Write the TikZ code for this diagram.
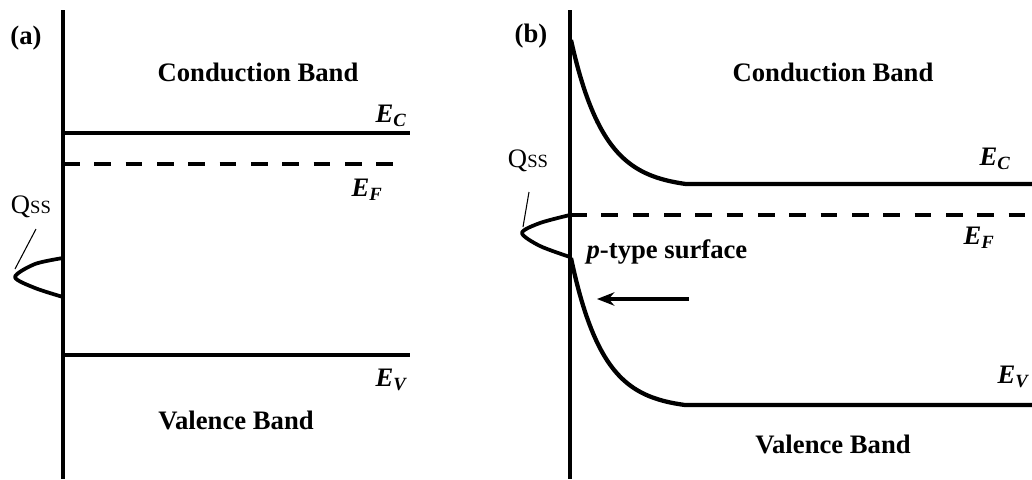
\documentclass[tikz,border=0pt]{standalone}
\usepackage{fontspec}
\setmainfont{Liberation Serif}
\usetikzlibrary{arrows.meta}

\begin{document}
\begin{tikzpicture}[
    x=0.75pt, y=-0.75pt,
    band/.style={line width=3.2pt},
    fermi/.style={line width=3.2pt, dash pattern=on 12.5pt off 11pt},
    axis/.style={line width=3.2pt},
    states/.style={line width=2.8pt, line join=round},
    leader/.style={line width=0.8pt},
    label/.style={font=\fontsize{20}{24}\selectfont\bfseries},
    level/.style={font=\fontsize{20}{24}\selectfont\bfseries\itshape},
    arrow/.style={-{Stealth[length=13pt,width=10pt]}, line width=3pt}
]
\useasboundingbox (0,0) rectangle (1032,479);

% ---------- (a) ----------
\node[label] (tagA) at (26,38) {(a)};
\coordinate (surfA) at (63,10);
\coordinate (bulkA) at (63,479);
\draw[axis] (surfA) -- (bulkA);

% Bands
\draw[band] (63,133) -- (410,133);
\draw[fermi] (63,164) -- (402,164);
\draw[band] (63,355) -- (410,355);

\node[level] (ecA) at (391,116) {E\textsubscript{C}};
\node[level] (efA) at (367,190) {E\textsubscript{F}};
\node[level] (evA) at (391,380) {E\textsubscript{V}};

\node[label] (cbA) at (258,72) {Conduction Band};
\node[label] (vbA) at (236,420) {Valence Band};

% Surface states
\draw[states] plot[smooth, tension=0.5] coordinates {(63,258) (35,264) (15,277) (35,288) (63,297)};
\node[font=\fontsize{20}{24}\selectfont] (qssA) at (31,207) {Q{\fontsize{14}{16}\selectfont SS}};
\draw[leader] (36,229) -- (15,269);

% ---------- (b) ----------
\node[label] (tagB) at (531,36) {(b)};
\coordinate (surfB) at (570,10);
\coordinate (bulkB) at (570,479);
\draw[axis] (surfB) -- (bulkB);

% Bent bands
\draw[band] plot[domain=0:115, samples=80] ({571+\x},{184-144*(exp(-\x/33)-0.0307)/0.9693}) -- (1032,184);
\draw[fermi] (570,215) -- (1032,215);
\draw[band] plot[domain=0:114, samples=80] ({571+\x},{405-147*(exp(-\x/32)-0.0283)/0.9717}) -- (1032,405);

\node[level] (ecB) at (995,159) {E\textsubscript{C}};
\node[level] (efB) at (979,238) {E\textsubscript{F}};
\node[level] (evB) at (1013,377) {E\textsubscript{V}};

\node[label] (cbB) at (833,72) {Conduction Band};
\node[label] (vbB) at (833,444) {Valence Band};
\node[label] (ptype) at (667,252) {\textit{p}-type surface};

% Surface states
\draw[states] plot[smooth, tension=0.5] coordinates {(570,215) (540,223) (522,233) (540,246) (570,257)};
\node[font=\fontsize{20}{24}\selectfont] (qssB) at (528,161) {Q{\fontsize{14}{16}\selectfont SS}};
\draw[leader] (529,192) -- (523,227);

% Drift
\coordinate (from) at (689,299);
\coordinate (to) at (597,299);
\draw[arrow] (from) -- (to);

\end{tikzpicture}
\end{document}
